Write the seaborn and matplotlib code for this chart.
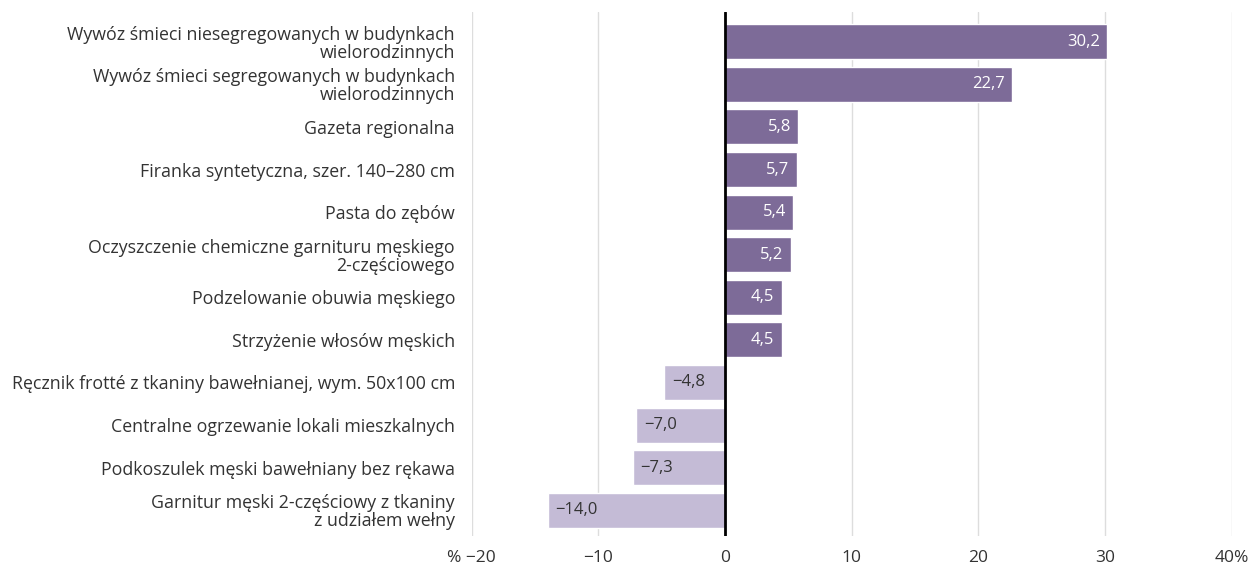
import pandas as pd
import matplotlib.pyplot as plt
import seaborn as sns

categories = [
    "Wywóz śmieci niesegregowanych w budynkach\nwielorodzinnych",
    "Wywóz śmieci segregowanych w budynkach\nwielorodzinnych",
    "Gazeta regionalna",
    "Firanka syntetyczna, szer. 140–280 cm",
    "Pasta do zębów",
    "Oczyszczenie chemiczne garnituru męskiego\n2-częściowego",
    "Podzelowanie obuwia męskiego",
    "Strzyżenie włosów męskich",
    "Ręcznik frotté z tkaniny bawełnianej, wym. 50x100 cm",
    "Centralne ogrzewanie lokali mieszkalnych",
    "Podkoszulek męski bawełniany bez rękawa",
    "Garnitur męski 2-częściowy z tkaniny\nz udziałem wełny",
]
values = [30.2, 22.7, 5.8, 5.7, 5.4, 5.2, 4.5, 4.5, -4.8, -7.0, -7.3, -14.0]
ticks = [-20, -10, 0, 10, 20, 30, 40]
tick_labels = ["% \u221220", "\u221210", "0", "10", "20", "30", "40%"]

df = pd.DataFrame({"item": categories, "change": values})
df["sign"] = ["up" if v > 0 else "down" for v in values]

sns.set_style("white")
plt.rcParams["font.family"] = ["Open Sans", "DejaVu Sans"]

fig = plt.figure(figsize=(12.58, 5.67), dpi=100)
ax = fig.add_axes([0.375, 0.055, 0.604, 0.924])

sns.barplot(data=df, x="change", y="item", hue="sign", orient="h",
            palette={"up": "#7b63a0", "down": "#c3b6da"},
            dodge=False, width=0.82, legend=False, ax=ax)

for i, v in enumerate(values):
    txt = f"{abs(v):.1f}".replace(".", ",")
    if v > 0:
        ax.text(v - 0.6, i, txt, ha="right", va="center", color="white", fontsize=12)
    else:
        ax.text(v + 0.6, i, "\u2212" + txt, ha="left", va="center", color="#333333", fontsize=12)

ax.set_xlim(-20, 40)
ax.set_ylim(11.6, -0.7)
ax.set_xticks(ticks)
ax.set_xticklabels(tick_labels, fontsize=12.5, color="#333333")
ax.tick_params(axis="y", labelsize=12.8, labelcolor="#333333", length=0, pad=12)
ax.tick_params(axis="x", length=0, pad=10)
for lbl in ax.get_yticklabels():
    lbl.set_multialignment("right")
    lbl.set_linespacing(1.0)
ax.xaxis.grid(True, color="#dddddd", linewidth=1)
ax.set_axisbelow(True)
ax.axvline(0, color="black", linewidth=2)
sns.despine(ax=ax, left=True, bottom=True)
ax.set_xlabel("")
ax.set_ylabel("")

plt.savefig("out.png", dpi=100)
